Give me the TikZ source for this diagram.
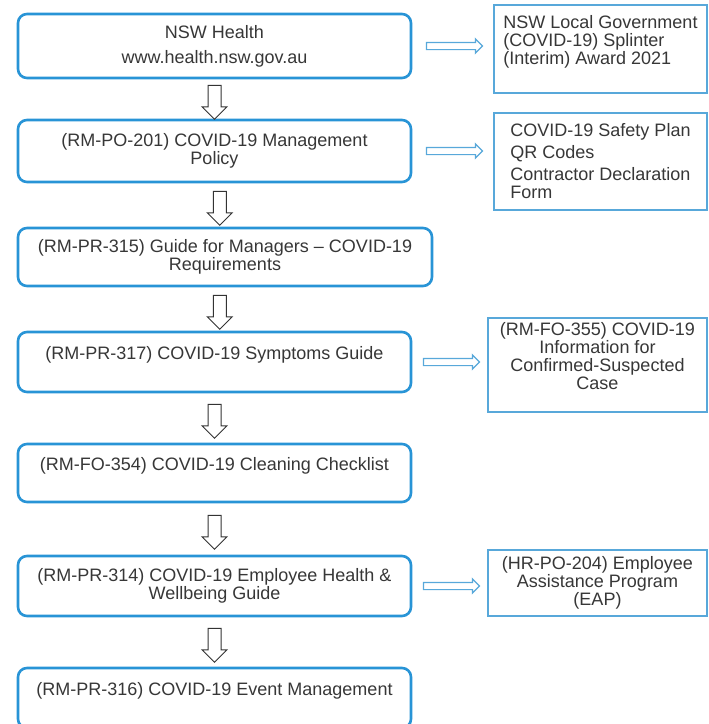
\documentclass[tikz,border=0pt]{standalone}
\usepackage{fontspec}
\setmainfont{Liberation Sans}
\usetikzlibrary{shapes.arrows}

\definecolor{boxblue}{RGB}{40,148,214}
\definecolor{sideblue}{RGB}{88,168,218}
\definecolor{txtgray}{RGB}{55,55,55}

\tikzset{
  stepbox/.style={draw=boxblue,line width=2.6pt,rounded corners=9pt,fill=white,
    minimum width=393pt,minimum height=60pt,align=center,text=txtgray,
    font=\fontsize{18}{18}\selectfont},
  sidebox/.style={draw=sideblue,line width=1.8pt,fill=white,
    minimum width=213pt,align=center,text=txtgray,
    font=\fontsize{18}{18}\selectfont},
  downarr/.style={single arrow,draw=black!80,fill=white,line width=1pt,
    shape border rotate=270,minimum height=34pt,inner sep=6pt,
    single arrow head extend=6pt},
  sidearr/.style={single arrow,draw=sideblue,fill=white,line width=1.2pt,
    minimum height=56pt,inner sep=3pt,
    single arrow head extend=3.5pt}
}

\begin{document}
\begin{tikzpicture}[x=1pt,y=-1pt]
\useasboundingbox (0,0) rectangle (709,724);
\clip (0,0) rectangle (709,724);

\node[stepbox,minimum height=64pt] (nsw) at (214.5,46) {NSW Health\\[7pt]www.health.nsw.gov.au};
\node[stepbox,minimum height=62pt] (po201) at (214.5,151) {(RM-PO-201) COVID-19 Management\\Policy};
\node[stepbox,minimum height=58pt,minimum width=414pt] (pr315) at (225,257) {(RM-PR-315) Guide for Managers -- COVID-19\\Requirements};
\node[stepbox] (pr317) at (214.5,362) {(RM-PR-317) COVID-19 Symptoms Guide\\~};
\node[stepbox,minimum height=58pt] (fo354) at (214.5,473) {(RM-FO-354) COVID-19 Cleaning Checklist\\~};
\node[stepbox] (pr314) at (214.5,586) {(RM-PR-314) COVID-19 Employee Health \&\\Wellbeing Guide};
\node[stepbox] (pr316) at (214.5,698) {(RM-PR-316) COVID-19 Event Management\\~};

\node[sidebox,align=left,minimum height=88pt] (award) at (600.5,49) {NSW Local Government\\(COVID-19) Splinter\\(Interim) Award 2021\\~};
\node[sidebox,align=left,minimum height=97pt] (plan) at (600.5,161.5) {COVID-19 Safety Plan\\[4pt]QR Codes\\[4pt]Contractor Declaration\\Form};
\node[sidebox,minimum width=219pt,minimum height=94pt] (fo355) at (597.5,365) {(RM-FO-355) COVID-19\\Information for\\Confirmed-Suspected\\Case\\~};
\node[sidebox,minimum width=219pt,minimum height=66pt] (hr204) at (597.5,583) {(HR-PO-204) Employee\\Assistance Program\\(EAP)};

\path (nsw.south) -- node[downarr] {} (po201.north);
\path (po201.south) -- node[downarr] {} (pr315.north);
\path (pr315.south) -- node[downarr] {} (pr317.north);
\path (pr317.south) -- node[downarr] {} (fo354.north);
\path (fo354.south) -- node[downarr] {} (pr314.north);
\path (pr314.south) -- node[downarr] {} (pr316.north);

\path (nsw.east) -- node[sidearr] {} (nsw.east -| award.west);
\path (po201.east) -- node[sidearr] {} (po201.east -| plan.west);
\path (pr317.east) -- node[sidearr] {} (pr317.east -| fo355.west);
\path (pr314.east) -- node[sidearr] {} (pr314.east -| hr204.west);
\end{tikzpicture}
\end{document}
